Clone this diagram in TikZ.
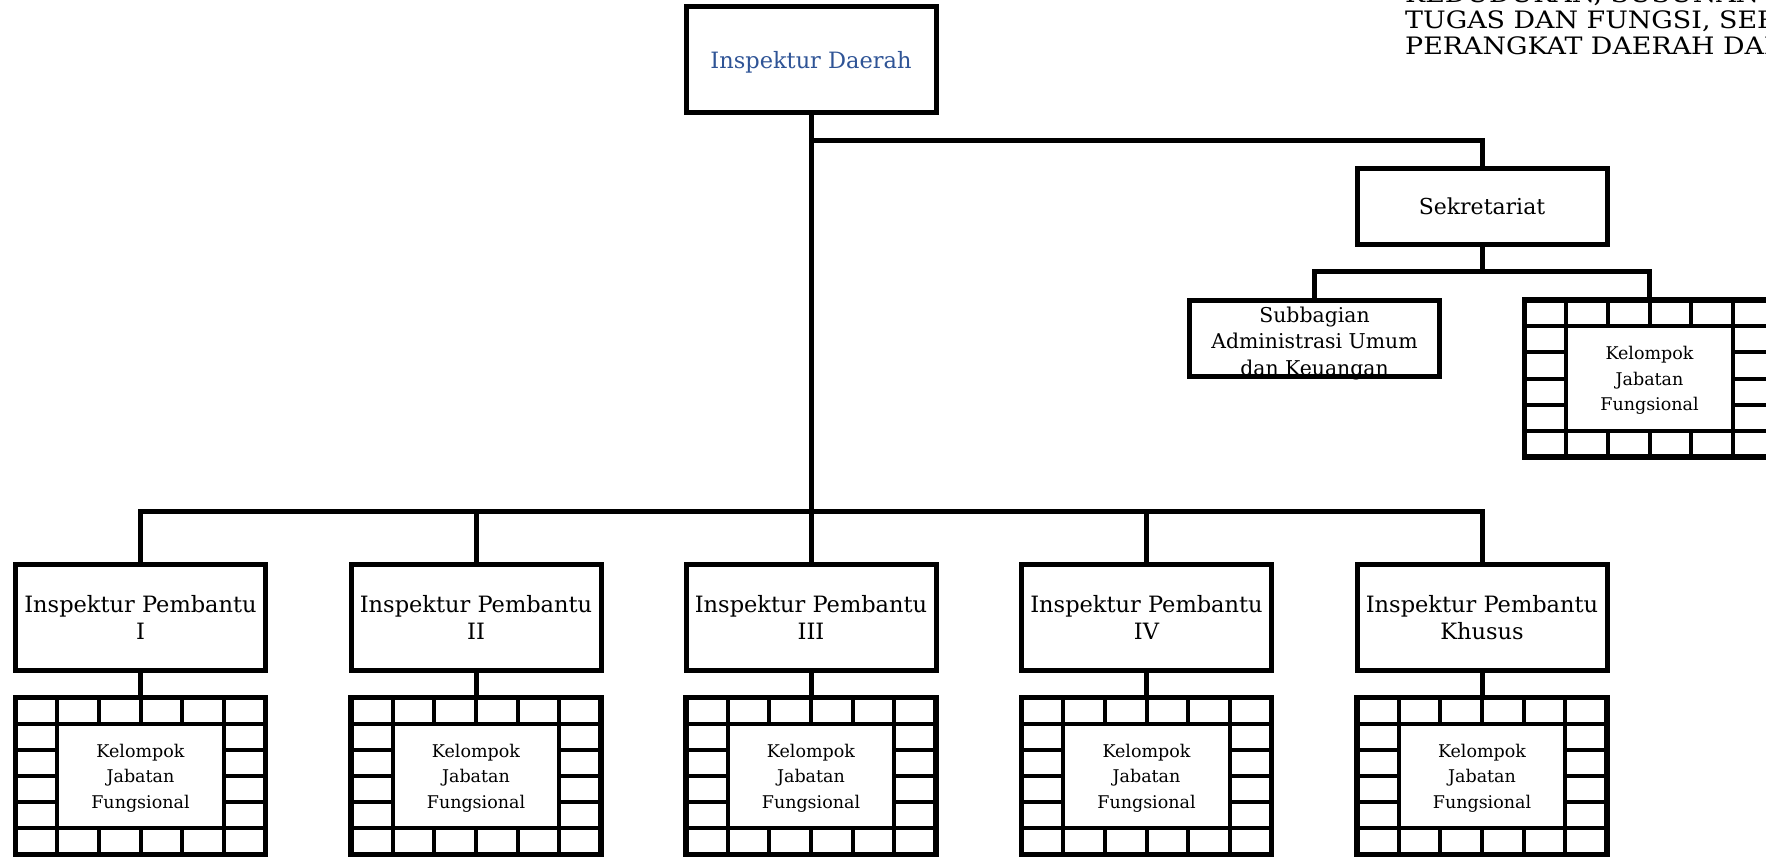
\documentclass[tikz,border=0pt]{standalone}
\usepackage{fontspec}
\setmainfont{DejaVu Serif}
\newfontfamily\judulfont[FakeStretch=1.12]{DejaVu Serif}
\usepackage{xcolor}
\usetikzlibrary{positioning,calc}
\definecolor{biru}{RGB}{47,84,150}
\tikzset{unit/.style = {draw,line width=5pt,outer sep=0pt,inner sep=0pt,align=center,minimum width=250pt,minimum height=106pt,font=\fontsize{22.5}{27}\selectfont}}
\tikzset{unitkecil/.style = {unit,minimum height=76pt}}
\tikzset{kjf/.style = {unit,line width=5.5pt,minimum height=157pt,text depth=0pt,font=\fontsize{17.5}{25.5}\selectfont}}
\tikzset{kisi/.style = {line width=4pt}}
\tikzset{garis/.style = {line width=5pt}}

\begin{document}
\begin{tikzpicture}[x=1pt,y=-1pt]
    \useasboundingbox (0,0) rectangle (1766,857);
    \clip (0,0) rectangle (1766,857);
    % judul
    \begin{scope}[every node/.style={anchor=base west,inner sep=0pt,font=\judulfont\fontsize{24}{26}\selectfont}]
        \node (judul1) at (1405,2)  {KEDUDUKAN, SUSUNAN ORGANISASI,};
        \node (judul2) at (1405,28) {TUGAS DAN FUNGSI, SERTA};
        \node (judul3) at (1405,54) {PERANGKAT DAERAH DAN};
    \end{scope}
    \node[unit,text=biru,text depth=0pt] (kepala) at (811,59.5) {Inspektur Daerah};
    \node[unitkecil,font=\fontsize{22}{26}\selectfont] (sek) at (1482,206.5) {Sekretariat};
    \node[unitkecil,label={[align=center,yshift=-5pt,font=\fontsize{20.4}{26.5}\selectfont]center:Subbagian\\Administrasi Umum\\dan Keuangan}] (sub) at (1314.5,338.5) {};
    \node[kjf] (kjs) at (1649.5,378.5) {Kelompok\\Jabatan\\Fungsional};
    \foreach \n/\xx/\nama in {1/140.5/I,2/476/II,3/811/III,4/1146.5/IV,5/1482/Khusus} {
        \node[unit] (ip\n) at (\xx,617.5) {Inspektur Pembantu\\\nama};
        \node[kjf] (kj\n) at (\xx,776) {Kelompok\\Jabatan\\Fungsional};
        \draw[garis] (ip\n) -- (kj\n);
    }
    % kisi kelompok jabatan fungsional
    \foreach \k in {kjs,kj1,kj2,kj3,kj4,kj5} {
        \begin{scope}[shift={(\k.center)},x=41.667pt,y=26.167pt]
            \draw[kisi] (-3,-2) -- (3,-2) (-3,2) -- (3,2) (-2,-2) -- (-2,2) (2,-2) -- (2,2);
            \foreach \i in {-1,0,1} \draw[kisi] (-3,\i) -- (-2,\i) (2,\i) -- (3,\i);
            \foreach \i in {-2,...,2} \draw[kisi] (\i,-3) -- (\i,-2) (\i,2) -- (\i,3);
        \end{scope}
    }
    % garis
    \coordinate (cabang) at (811,140);
    \coordinate (bus) at (811,511.5);
    \coordinate (bussek) at (1482,271.5);
    \draw[garis] (kepala) -- (bus);
    \draw[garis] (cabang) -| (sek);
    \draw[garis] (sek) -- (bussek);
    \draw[garis] (sub) |- (bussek) -| (kjs);
    \draw[garis] (ip1) |- (bus) -| (ip5);
    \foreach \n in {2,3,4} \draw[garis] (ip\n) -- (ip\n |- bus);
\end{tikzpicture}
\end{document}
